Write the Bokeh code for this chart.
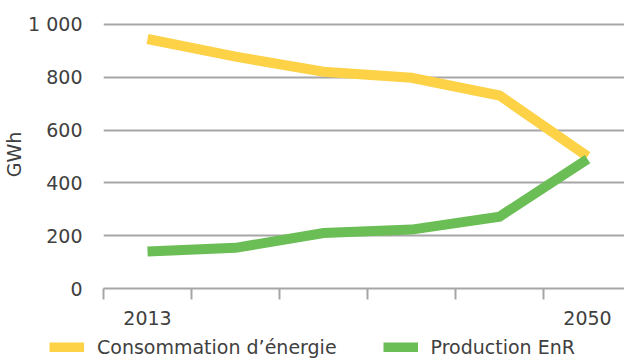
from bokeh.plotting import figure
from bokeh.layouts import column, row
from bokeh.models import FixedTicker, Legend, LegendItem, Range1d
from bokeh.embed import file_html
from bokeh.resources import INLINE

# Data
x_idx = [0, 1, 2, 3, 4, 5]
year_labels = ["2013", "", "", "", "", "2050"]
consommation = [945, 878, 821, 798, 731, 500]
production = [140, 154, 210, 223, 272, 490]
y_ticks = [0, 200, 400, 600, 800, 1000]
series_names = ["Consommation d’énergie", "Production EnR"]
colors = ["#FDD247", "#6BBE55"]

FONT = "DejaVu Sans"
FS = "19px"
TXT = "#404040"
GRID = "#A6A6A6"

p = figure(width=624, height=330, output_backend="svg", toolbar_location=None,
           x_range=Range1d(-0.5, 5.42), y_range=Range1d(0, 1015),
           min_border_left=103, min_border_right=0, min_border_top=20,
           min_border_bottom=42)
p.outline_line_color = None

p.line(x_idx, consommation, line_color=colors[0], line_width=10, line_join="miter")
p.line(x_idx, production, line_color=colors[1], line_width=10, line_join="miter")

# Y axis
ya = p.yaxis[0]
ya.ticker = FixedTicker(ticks=y_ticks)
ya.major_label_overrides = {1000: "1 000"}
ya.axis_line_color = None
ya.major_tick_line_color = None
ya.minor_tick_line_color = None
ya.major_tick_out = 0
ya.major_tick_in = 0
ya.major_label_standoff = 21
ya.major_label_text_font = FONT
ya.major_label_text_font_size = FS
ya.major_label_text_color = TXT
ya.axis_label = "GWh"
ya.axis_label_standoff = 0
ya.axis_label_text_font = FONT
ya.axis_label_text_font_size = FS
ya.axis_label_text_font_style = "normal"
ya.axis_label_text_color = TXT

# X axis
xa = p.xaxis[0]
xa.ticker = FixedTicker(ticks=[0, 5], minor_ticks=[-0.5, 0.5, 1.5, 2.5, 3.5, 4.5])
xa.major_label_overrides = {x_idx[i]: year_labels[i] for i in (0, 5)}
xa.axis_line_color = GRID
xa.axis_line_width = 2
xa.major_tick_line_color = None
xa.major_tick_out = 0
xa.major_tick_in = 0
xa.minor_tick_line_color = GRID
xa.minor_tick_line_width = 2
xa.minor_tick_out = 11
xa.minor_tick_in = 0
xa.major_label_standoff = 11
xa.major_label_text_font = FONT
xa.major_label_text_font_size = FS
xa.major_label_text_color = TXT

p.xgrid.grid_line_color = None
p.ygrid.ticker = FixedTicker(ticks=y_ticks)
p.ygrid.grid_line_color = GRID
p.ygrid.grid_line_width = 2

# Legend strip (series drawn off-range so only the legend shows)
q = figure(width=624, height=28, output_backend="svg", toolbar_location=None,
           x_range=Range1d(0, 1), y_range=Range1d(0, 1),
           min_border_left=0, min_border_right=0, min_border_top=0,
           min_border_bottom=0, x_axis_type=None, y_axis_type=None)
q.outline_line_color = None
q.xgrid.grid_line_color = None
q.ygrid.grid_line_color = None
l1 = q.line(x_idx, consommation, line_color=colors[0], line_width=10)
l2 = q.line(x_idx, production, line_color=colors[1], line_width=10)
legend = Legend(items=[LegendItem(label=series_names[0], renderers=[l1]),
                       LegendItem(label=series_names[1], renderers=[l2])],
                orientation="horizontal", location=(49, 0),
                glyph_width=35, glyph_height=10, label_standoff=13, spacing=46,
                padding=0, margin=0, border_line_color=None,
                background_fill_alpha=0, label_text_font=FONT,
                label_text_font_size=FS, label_text_color=TXT,
                label_height=20)
q.add_layout(legend, "center")

open("out.html", "w").write(file_html(column(p, row(q), spacing=0), INLINE))
